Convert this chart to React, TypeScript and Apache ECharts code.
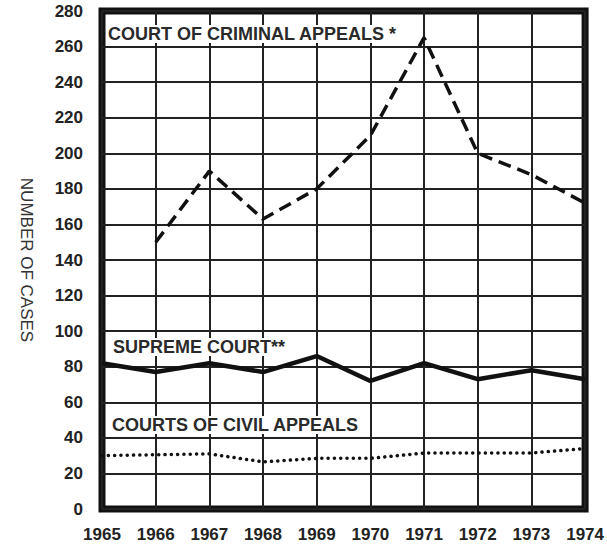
import React, { useEffect, useRef } from "react";
import * as echarts from "echarts";

const years = ["1965", "1966", "1967", "1968", "1969", "1970", "1971", "1972", "1973", "1974"];
const criminalAppeals = [null, 150, 190, 163, 180, 210, 265, 200, 188, 172];
const supremeCourt = [82, 77, 82, 77, 86, 72, 82, 73, 78, 73];
const civilAppeals = [30, 30.5, 31, 26.5, 28.5, 28.5, 31.5, 31.5, 31.5, 34];
const yTicks = { min: 0, max: 280, interval: 20 };
const seriesLabels = ["COURT OF CRIMINAL APPEALS *", "SUPREME COURT**", "COURTS OF CIVIL APPEALS"];

const FONT = "'Liberation Sans', Arial, sans-serif";

export default function App() {
  const ref = useRef<HTMLDivElement>(null);
  useEffect(() => {
    if (!ref.current) return;
    const chart = echarts.init(ref.current, null, { renderer: "svg" });
    const labelStyle = (text: string) => ({
      text,
      fill: "#2a2a2a",
      font: `bold 18px ${FONT}`,
      backgroundColor: "#fff",
      padding: [0, 2],
      verticalAlign: "middle",
    });
    chart.setOption({
      animation: false,
      backgroundColor: "#fff",
      grid: {
        left: 102,
        right: 16,
        top: 11,
        bottom: 41,
        show: true,
        borderColor: "#111",
        borderWidth: 7,
        backgroundColor: "transparent",
      },
      xAxis: {
        type: "category",
        data: years,
        boundaryGap: false,
        axisLine: { show: false },
        axisTick: { show: false },
        axisLabel: {
          color: "#222",
          fontFamily: FONT,
          fontSize: 17,
          fontWeight: "bold",
          margin: 17,
          interval: 0,
        },
        splitLine: { show: true, lineStyle: { color: "#222", width: 2 } },
      },
      yAxis: {
        type: "value",
        min: yTicks.min,
        max: yTicks.max,
        interval: yTicks.interval,
        name: "NUMBER OF CASES",
        nameLocation: "middle",
        nameGap: 67,
        nameRotate: -90,
        nameTextStyle: { color: "#333", fontFamily: FONT, fontSize: 17, fontWeight: "normal" },
        axisLine: { show: false },
        axisTick: { show: false },
        axisLabel: {
          color: "#222",
          fontFamily: FONT,
          fontSize: 17,
          fontWeight: "bold",
          margin: 19,
        },
        splitLine: { show: true, lineStyle: { color: "#222", width: 2 } },
      },
      series: [
        {
          name: seriesLabels[0],
          type: "line",
          data: criminalAppeals,
          showSymbol: false,
          z: 3,
          lineStyle: { color: "#111", width: 3.5, type: [13, 7] },
        },
        {
          name: seriesLabels[1],
          type: "line",
          data: supremeCourt,
          showSymbol: false,
          z: 3,
          lineStyle: { color: "#111", width: 4.5 },
        },
        {
          name: seriesLabels[2],
          type: "line",
          data: civilAppeals,
          showSymbol: false,
          z: 3,
          lineStyle: { color: "#111", width: 3.5, type: [0.1, 6.2], cap: "round" },
        },
      ],
      graphic: [
        { type: "text", x: 106, y: 34, z: 10, style: labelStyle(seriesLabels[0]) },
        { type: "text", x: 111, y: 347, z: 10, style: labelStyle(seriesLabels[1]) },
        { type: "text", x: 110, y: 425, z: 10, style: labelStyle(seriesLabels[2]) },
      ],
    });
    return () => chart.dispose();
  }, []);
  return <div ref={ref} style={{ width: 607, height: 550, position: "absolute", left: 0, top: 0 }} />;
}
